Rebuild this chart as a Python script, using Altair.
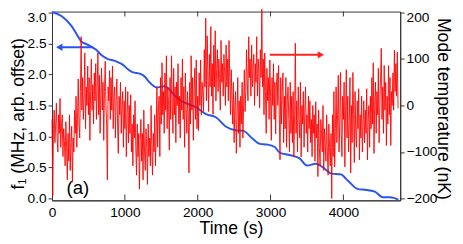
import altair as alt
import pandas as pd

FONT = "Liberation Sans"

# ---- blue series: f1 (MHz, arb. offset) vs time (s)
blue_t = [0, 135, 269, 364, 404, 471, 539, 606, 673, 768, 862, 902, 970, 1037, 1104,
          1212, 1279, 1333, 1441, 1535, 1603, 1670, 1737, 1872, 1980, 2114, 2249, 2384,
          2519, 2626, 2747, 2855, 2949, 3057, 3125, 3259, 3394, 3502, 3623, 3731, 3838,
          3960, 4067, 4202, 4296, 4431, 4539, 4646, 4754]
blue_f = [3.01, 2.94, 2.78, 2.60, 2.53, 2.49, 2.45, 2.40, 2.32, 2.25, 2.22, 2.20, 2.16,
          2.09, 2.04, 2.01, 1.96, 1.88, 1.79, 1.81, 1.77, 1.68, 1.60, 1.52, 1.47, 1.36,
          1.31, 1.16, 1.10, 1.09, 0.97, 0.88, 0.87, 0.83, 0.74, 0.70, 0.65, 0.53, 0.56,
          0.49, 0.40, 0.39, 0.28, 0.15, 0.14, 0.11, 0.02, 0.02, -0.02]

# ---- red series: mode temperature (nK), sampled every 10 s
red_v = [
    -30, -195, -50, -10, -80, -40, 5, -70, -100, -20, -60, 15, -90, -45, -20, -110, -50, -75, -130, -35,
    -90, -160, -60, -120, -20, -140, -80, -45, -165, -70, -100, -10, -60, 20, -90, -30, 57, -40, -70, 30,
    148, -10, 60, -30, 20, 113, -50, 40, 0, 85, -20, 60, -75, 30, 100, -10, 45, -40, 70, 10,
    90, -30, 40, 113, -20, 65, -60, 25, 80, -10, 50, -75, 30, 95, 0, -40, -160, 40, 10, 75,
    -30, 60, -10, 85, -50, 20, 40, -70, 10, 57, -40, -103, 20, -20, 50, -60, 0, 30, -90, 10,
    -50, 40, -110, -20, 30, -80, 0, -60, 23, -100, -40, -130, -20, -70, 10, -90, -150, -40, -110, -60,
    -180, -80, -30, -120, -60, -160, -10, -100, -140, -50, -90, -170, -40, -110, -70, -130, 0, -90, -150, -60,
    -100, -20, -130, -60, 40, -90, -10, 20, -110, 60, -40, 92, -20, 30, -60, 70, -10, 107, -50, 40,
    0, -96, 60, -30, 107, 10, -60, 80, -20, 40, -80, 50, 0, 90, -40, 20, -70, 60, -10, 100,
    -30, 40, -90, 70, 0, -60, 30, -20, -145, 50, -40, 107, -10, 60, -75, 30, 80, -30, 98, -50,
    20, -54, 70, 0, 98, -20, 50, 30, -13, 120, 40, 188, 10, 150, 60, -13, 110, 40, 170, 20,
    90, -19, 130, 40, 161, 10, 80, 120, 30, 100, 60, -10, 140, 50, 90, 20, 110, 70, 0, 130,
    40, 100, 10, 140, 60, -20, 77, 20, -40, 50, -80, 0, 30, -103, -20, 60, -60, 10, -90, 20,
    -40, 50, -70, 0, 77, -13, 30, 120, 50, 10, 148, 60, 100, 20, 130, 40, 80, 110, 0, 90,
    50, 148, 20, 100, 70, -5, 120, 60, 207, 40, 100, -20, 113, 30, -60, 80, 10, 60, -30, 98,
    20, -75, 60, 0, 90, -30, 50, -61, 40, 70, 0, 86, -20, -117, 60, -40, 30, 70, -80, 20,
    -50, 60, -90, 10, 40, -30, -100, 50, -60, 20, -80, 30, -110, -20, 134, -60, 10, -100, 40, -30,
    -70, 50, -111, 0, -40, 30, -90, -10, 40, -60, -20, -100, 20, -50, 10, -80, -30, -110, 0, -60,
    -20, -120, 8, -70, -40, -153, -10, -90, -130, -30, -60, -100, 0, -140, -50, -80, -120, -20, -100, -150,
    -40, -90, -130, -60, -200, -20, -110, 30, -132, -50, 40, -80, -20, 65, -100, -40, 71, -60, -110, 20,
    -30, 50, -132, -10, 77, -70, 20, -100, -40, 60, -145, 0, -80, 71, -20, -123, 30, -60, -90, 10,
    -50, 36, -117, -20, -70, 20, -100, -40, 10, -80, -10, -60, 36, -117, -30, 0, -90, 20, -50, 60,
    -40, 92, -103, 10, 50, -60, 30, -20, 80, -80, 0, 60, 123, -30, 40, -60, 86, -10, 50, -86,
    20, -40, 86, -20, 60, -86, 30, 0, 70, -10, 119, 30, 90, 20, 115, -6,
]
red_t = [10 * i for i in range(len(red_v))]

x_tick_values = [0, 1000, 2000, 3000, 4000]
inner_ticks = [1000, 2000, 3000, 4000]
left_tick_values = [0.0, 0.5, 1.0, 1.5, 2.0, 2.5, 3.0]
right_tick_values = [-200, -100, 0, 100, 200]

# annotation anchors (data units)
blue_arrow_t = [566, 100]
blue_arrow_f = [2.44, 2.44]
red_arrow_t = [2990, 3690]
red_arrow_v = [109, 109]
label_t = [200]
label_f = [0.16]
label_txt = ["(a)"]

BLUE = "#2a55f0"
RED = "#ff0000"

blue_df = pd.DataFrame({"t": blue_t, "f": blue_f})
red_df = pd.DataFrame({"t": red_t, "v": red_v})

xscale = alt.Scale(domain=[0, 4780], nice=False, zero=False)
x_axis = alt.Axis(values=x_tick_values, format="d", title="Time (s)", tickSize=0, labelPadding=6,
                  labelFontSize=14, labelFont=FONT, labelColor="black",
                  titleFont=FONT, titleFontSize=18, titleFontWeight="normal",
                  titleColor="black", titleX=183, titleY=29, titleBaseline="middle",
                  domainColor="#333", grid=False, labelFlush=False, labelOverlap=False)

lscale = alt.Scale(domain=[-0.0316, 3.0158], nice=False, zero=False)
rscale = alt.Scale(domain=[-204.2, 202.1], nice=False, zero=False)

left_axis = alt.Axis(orient="left", values=left_tick_values, format=".1f", tickSize=4,
                     tickColor="#333", domainColor="#333", labelPadding=2,
                     labelFontSize=14, labelFont=FONT, labelColor="black",
                     labelOverlap=False, labelFlush=False,
                     labelBaseline={"expr": "datum.value >= 3 ? 'top' : 'middle'"},
                     labelOffset={"expr": "datum.value >= 3 ? -2 : 0"},
                     title="f₁ (MHz, arb. offset)", titleFont=FONT, titleFontSize=18,
                     titleFontWeight="normal", titleColor="black", titleAngle=-90,
                     titleX=-34, titleY=104, titleAlign="center", titleBaseline="middle",
                     grid=False)

right_axis = alt.Axis(orient="right", values=right_tick_values, format="d", tickSize=4,
                      tickColor="#333", domainColor="#333", labelPadding=2,
                      labelFontSize=14, labelFont=FONT, labelColor="black",
                      labelOverlap=False, labelFlush=False,
                      labelBaseline={"expr": "datum.value >= 200 ? 'top' : 'middle'"},
                      labelOffset={"expr": "datum.value >= 200 ? -2 : 0"},
                      title="Mode temperature (nK)", titleFont=FONT, titleFontSize=18,
                      titleFontWeight="normal", titleColor="black", titleAngle=90,
                      titleX=43, titleY=99, titleAlign="center", titleBaseline="middle",
                      grid=False)

X = alt.X("t:Q", scale=xscale, axis=x_axis)
YL = alt.Y("f:Q", scale=lscale, axis=left_axis)
YR = alt.Y("v:Q", scale=rscale, axis=right_axis)

blue_line = alt.Chart(blue_df).mark_line(color=BLUE, strokeWidth=2, interpolate="monotone").encode(
    x=X, y=YL)

barrow_df = pd.DataFrame({"t": [blue_arrow_t[0]], "t2": [blue_arrow_t[1]], "f": [blue_arrow_f[0]]})
blue_shaft = alt.Chart(barrow_df).mark_rule(color=BLUE, strokeWidth=2).encode(
    x=X, x2="t2:Q", y=YL)
bhead_df = pd.DataFrame({"t": [blue_arrow_t[1]], "f": [blue_arrow_f[1]]})
blue_head = alt.Chart(bhead_df).mark_point(shape="triangle-left", filled=True, size=55,
                                           color=BLUE, opacity=1).encode(x=X, y=YL)

lab_df = pd.DataFrame({"t": label_t, "f": label_f, "s": label_txt})
label_a = alt.Chart(lab_df).mark_text(align="left", baseline="middle", fontSize=19,
                                      font=FONT, color="black").encode(x=X, y=YL, text="s:N")

ticks_df = pd.DataFrame({"t": inner_ticks})
top_ticks = alt.Chart(ticks_df).mark_rule(color="#333", strokeWidth=1).encode(
    x=X, y=alt.value(0), y2=alt.value(5))
bot_ticks = alt.Chart(ticks_df).mark_rule(color="#333", strokeWidth=1).encode(
    x=X, y=alt.value(193), y2=alt.value(187))

left_group = alt.layer(blue_line, blue_shaft, blue_head, label_a, top_ticks, bot_ticks)

red_line = alt.Chart(red_df).mark_line(color=RED, strokeWidth=0.9, opacity=1).encode(
    x=X, y=YR)
rarrow_df = pd.DataFrame({"t": [red_arrow_t[0]], "t2": [red_arrow_t[1]], "v": [red_arrow_v[0]]})
red_shaft = alt.Chart(rarrow_df).mark_rule(color="#ff2020", strokeWidth=2).encode(
    x=X, x2="t2:Q", y=YR)
rhead_df = pd.DataFrame({"t": [red_arrow_t[1]], "v": [red_arrow_v[1]]})
red_head = alt.Chart(rhead_df).mark_point(shape="triangle-right", filled=True, size=55,
                                          color="#ff2020", opacity=1).encode(x=X, y=YR)

right_group = alt.layer(red_line, red_shaft, red_head)

chart = alt.layer(left_group, right_group).resolve_scale(y="independent").properties(
    width=356, height=193,
    padding={"left": 45, "top": 1, "right": 56, "bottom": 44},
    autosize=alt.AutoSizeParams(type="none"),
    background="white",
).configure_view(stroke="#333", strokeWidth=1)

chart.save("out.html", embed_options={"renderer": "svg", "actions": False})
